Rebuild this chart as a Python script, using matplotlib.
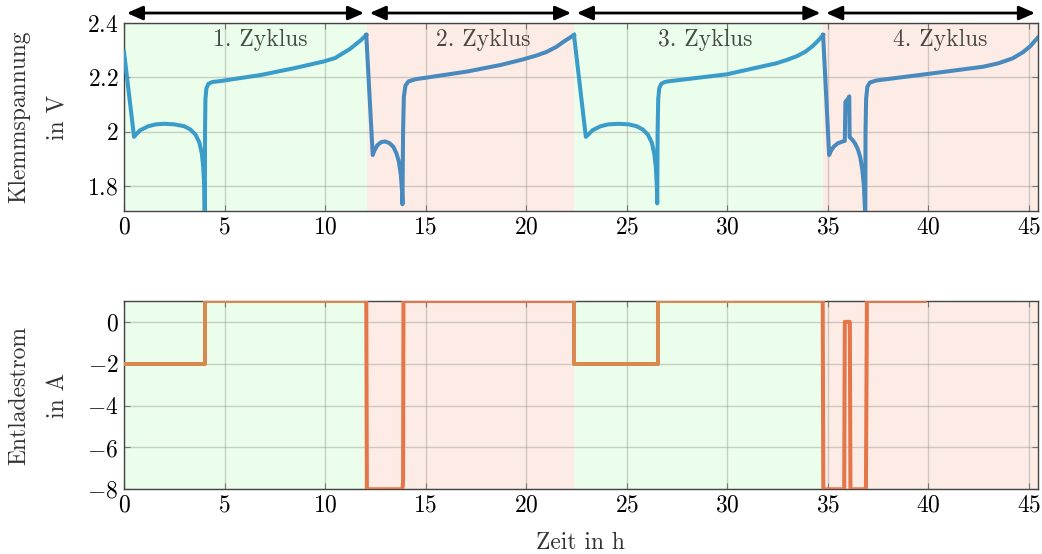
import matplotlib
matplotlib.use("Agg")
import matplotlib.pyplot as plt
from matplotlib.ticker import FuncFormatter

plt.rcParams.update({
    "font.family": "serif",
    "font.serif": ["cmr10"],
    "mathtext.fontset": "cm",
    "axes.formatter.use_mathtext": True,
    "font.size": 17,
})

# cycle boundaries in h
cycle_edges = [0, 12.08, 22.38, 34.78, 45.45]
cycle_names = ["1. Zyklus", "2. Zyklus", "3. Zyklus", "4. Zyklus"]
name_pos = [6.77, 17.85, 28.9, 40.6]

# terminal voltage per cycle (time in h, voltage in V)
t_u1 = [0, 0.50, 0.6, 0.8, 1.2, 1.6, 2.0, 2.5, 3.0, 3.3, 3.55, 3.75, 3.87, 3.94, 3.99, 4.01, 4.02,
        4.03, 4.05, 4.1, 4.2, 4.4, 4.77, 6.76, 8.42, 9.91, 10.5, 11.25, 11.8, 12.05]
u1 = [2.294, 1.981, 1.99, 2.005, 2.02, 2.027, 2.029, 2.027, 2.02, 2.008, 1.99, 1.96, 1.92, 1.87, 1.80, 1.70, 1.65,
      2.0, 2.12, 2.16, 2.176, 2.183, 2.186, 2.208, 2.233, 2.258, 2.271, 2.305, 2.338, 2.356]
t_u2 = [12.05, 12.37, 12.45, 12.6, 12.8, 13.0, 13.2, 13.4, 13.55, 13.67, 13.77, 13.83, 13.85,
        13.88, 13.92, 14.0, 14.15, 14.5, 17.04, 18.7, 19.8, 20.5, 21.0, 21.5, 21.9, 22.2, 22.38]
u2 = [2.356, 1.914, 1.93, 1.95, 1.962, 1.964, 1.958, 1.944, 1.92, 1.89, 1.84, 1.78, 1.733,
      2.0, 2.13, 2.17, 2.185, 2.193, 2.221, 2.245, 2.265, 2.28, 2.293, 2.312, 2.333, 2.347, 2.356]
t_u3 = [22.38, 22.97, 23.1, 23.3, 23.7, 24.1, 24.6, 25.1, 25.5, 25.8, 26.05, 26.25, 26.37, 26.45, 26.5, 26.52,
        26.54, 26.57, 26.62, 26.72, 26.9, 27.15, 29.97, 32.46, 33.0, 33.5, 33.9, 34.25, 34.55, 34.77]
u3 = [2.356, 1.981, 1.99, 2.005, 2.02, 2.027, 2.029, 2.027, 2.02, 2.008, 1.99, 1.96, 1.92, 1.87, 1.80, 1.736,
      2.0, 2.12, 2.16, 2.176, 2.183, 2.186, 2.211, 2.252, 2.265, 2.279, 2.295, 2.315, 2.337, 2.356]
t_u4 = [34.77, 35.07, 35.15, 35.3, 35.5, 35.7, 35.85, 35.88, 36.0, 36.07, 36.09, 36.2, 36.35, 36.5, 36.62,
        36.72, 36.8, 36.86, 36.87, 36.88, 36.91, 36.97, 37.1, 37.4, 37.59, 40.24, 42.73, 43.5, 44.2, 44.7,
        45.05, 45.46]
u4 = [2.356, 1.914, 1.928, 1.945, 1.957, 1.963, 1.966, 2.11, 2.12, 2.13, 1.98, 1.972, 1.958, 1.935, 1.905,
      1.86, 1.80, 1.70, 1.65, 2.0, 2.12, 2.165, 2.181, 2.188, 2.19, 2.215, 2.239, 2.252, 2.27, 2.292,
      2.313, 2.347]

# discharge current per cycle (time in h, current in A)
t_i1 = [0, 4.02, 4.02, 12.05]
i1 = [-2, -2, 1, 1]
t_i2 = [12.05, 12.08, 13.8, 13.86, 13.88, 13.9, 22.4]
i2 = [1, -8, -8, -7.9, -7.6, 1, 1]
t_i3 = [22.4, 22.4, 26.55, 26.55, 34.75]
i3 = [1, -2, -2, 1, 1]
t_i4 = [34.75, 34.78, 35.82, 35.85, 36.1, 36.13, 36.9, 36.95, 39.83]
i4 = [1, -8, -8, 0, 0, -8, -8, 1, 1]

u_cycles = [(t_u1, u1), (t_u2, u2), (t_u3, u3), (t_u4, u4)]
i_cycles = [(t_i1, i1), (t_i2, i2), (t_i3, i3), (t_i4, i4)]

bg_colors = ["#ebfdeb", "#fcece5"]
u_colors = ["#3a9cc8", "#4889be"]
i_colors = ["#d98850", "#e5764a"]

fig = plt.figure(figsize=(10.42, 5.54), dpi=100)
ax1 = fig.add_axes([0.119, 0.6191, 0.877, 0.3394])
ax2 = fig.add_axes([0.119, 0.1168, 0.877, 0.3399])

fmt = FuncFormatter(lambda v, p: "$%g$" % v)

for ax in (ax1, ax2):
    for k in range(4):
        ax.axvspan(cycle_edges[k], cycle_edges[k + 1], color=bg_colors[k % 2], lw=0, zorder=0)
    ax.set_xlim(0, 45.45)
    ax.set_xticks(range(0, 50, 5))
    ax.grid(True, color="gray", alpha=0.35, lw=1)
    ax.set_axisbelow(True)
    ax.tick_params(direction="in", top=True, right=True, length=4, color="#777777", pad=4)
    ax.xaxis.set_major_formatter(fmt)
    ax.yaxis.set_major_formatter(fmt)
    for s in ax.spines.values():
        s.set_color("#444444")
        s.set_linewidth(1)

for k, (t, u) in enumerate(u_cycles):
    ax1.plot(t, u, color=u_colors[k % 2], lw=2.9, solid_joinstyle="round", zorder=3)
for k, (t, i) in enumerate(i_cycles):
    ax2.plot(t, i, color=i_colors[k % 2], lw=2.9, solid_joinstyle="round", zorder=3)

ax1.set_ylim(1.708, 2.4)
ax1.set_yticks([1.8, 2.0, 2.2, 2.4])
ax2.set_ylim(-8, 1)
ax2.set_yticks([-8, -6, -4, -2, 0])

# cycle labels and arrows above the voltage plot
for k in range(4):
    ax1.text(name_pos[k], 2.337, cycle_names[k], ha="center", va="center",
             color="k", alpha=0.7, zorder=4)
    ax1.annotate("", xy=(cycle_edges[k], 1.053), xytext=(cycle_edges[k + 1], 1.053),
                 xycoords=("data", "axes fraction"), textcoords=("data", "axes fraction"),
                 annotation_clip=False,
                 arrowprops=dict(arrowstyle="<|-|>,head_length=0.8,head_width=0.35",
                                 color="k", lw=2, shrinkA=2, shrinkB=2,
                                 mutation_scale=12))

label_color = "#333333"
fig.text(0.037, 0.789, "Klemmspannung\nin V", rotation=90, ha="center", va="center",
         multialignment="center", linespacing=1.95, color=label_color)
fig.text(0.037, 0.287, "Entladestrom\nin A", rotation=90, ha="center", va="center",
         multialignment="center", linespacing=1.95, color=label_color)
ax2.set_xlabel("Zeit in h", labelpad=10.5, color=label_color)

fig.savefig("out.png", dpi=100)
